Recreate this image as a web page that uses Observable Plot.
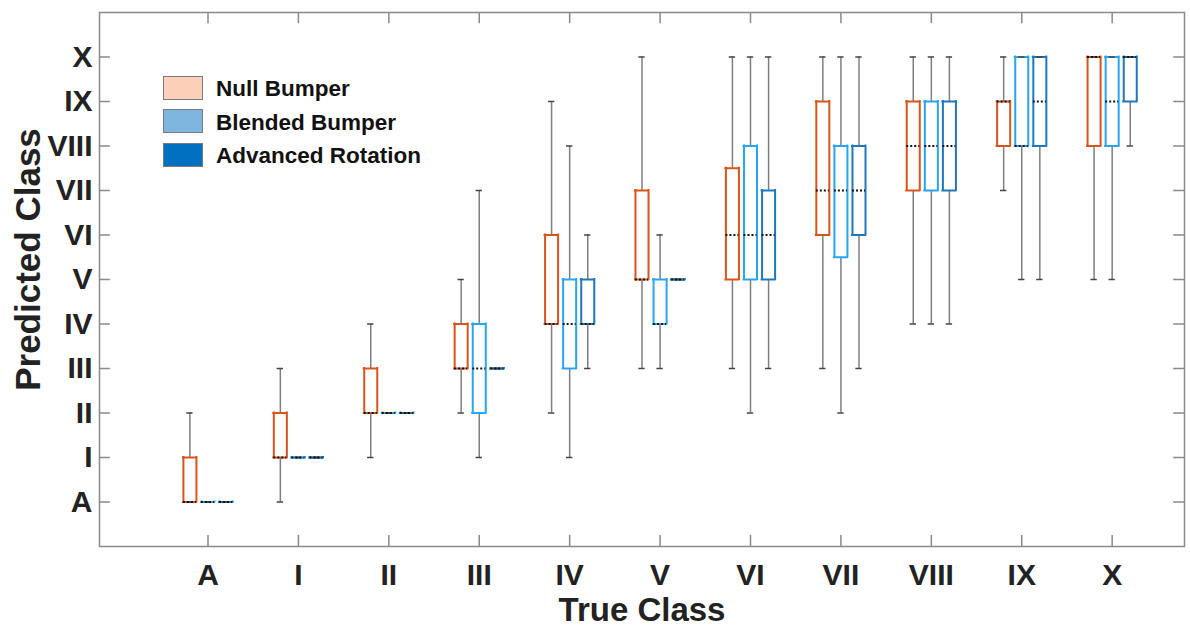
<!DOCTYPE html>
<html><head><meta charset="utf-8">
<script src="https://cdn.jsdelivr.net/npm/d3@7"></script>
<script src="https://cdn.jsdelivr.net/npm/@observablehq/plot@0.6"></script>
<style>
body{margin:0;background:#fff;}
#wrap{position:relative;width:1190px;height:629px;font-family:"Liberation Sans",Arial,sans-serif;}
.sw{position:absolute;left:163px;width:38px;height:22px;border:1.5px solid #7a7a7a;}
.lt{position:absolute;left:216px;font-size:22.5px;font-weight:bold;color:#111;line-height:24px;white-space:nowrap;}
</style></head><body><div id="wrap"></div>
<script>
const categories = ["A","I","II","III","IV","V","VI","VII","VIII","IX","X"];
const series = ["Null Bumper","Blended Bumper","Advanced Rotation"];
const boxColors = ["#D9541A","#27A5F2","#1F77BD"];
const legendFills = ["#FCCFB8","#7DB7E0","#0070BF"];

// Null Bumper
const nullLow  = [0,0,1,2,2,3,3,3,4,7,5];
const nullQ1   = [0,1,2,3,4,5,5,6,7,8,8];
const nullMed  = [0,1,2,3,4,5,6,7,8,9,10];
const nullQ3   = [1,2,3,4,6,7,7.5,9,9,9,10];
const nullHigh = [2,3,4,5,9,10,10,10,10,10,10];
// Blended Bumper
const blendLow  = [0,1,2,1,1,3,2,2,4,5,5];
const blendQ1   = [0,1,2,2,3,4,5,5.5,7,8,8];
const blendMed  = [0,1,2,3,4,4,6,7,8,8,9];
const blendQ3   = [0,1,2,4,5,5,8,8,9,10,10];
const blendHigh = [0,1,2,7,8,6,10,10,10,10,10];
// Advanced Rotation
const advLow  = [0,1,2,3,3,5,3,3,4,5,8];
const advQ1   = [0,1,2,3,4,5,5,6,7,8,9];
const advMed  = [0,1,2,3,4,5,6,7,8,9,10];
const advQ3   = [0,1,2,3,5,5,7,8,9,10,10];
const advHigh = [0,1,2,3,6,5,10,10,10,10,10];

const stats = [
  [nullLow,nullQ1,nullMed,nullQ3,nullHigh],
  [blendLow,blendQ1,blendMed,blendQ3,blendHigh],
  [advLow,advQ1,advMed,advQ3,advHigh]
];
const offsets = [-0.2, 0, 0.2];
const half = 0.072, capHalf = 0.035;
const rows = [];
series.forEach((s, si) => categories.forEach((c, ci) => {
  const [lo,q1,md,q3,hi] = stats[si].map(a => a[ci]);
  rows.push({series: s, x: ci + offsets[si], low: lo, q1, med: md, q3, high: hi});
}));

const ticks = d3.range(categories.length);
const axisGray = "#8a8a8a";

const chart = Plot.plot({
  width: 1190, height: 629,
  marginLeft: 99, marginRight: 6, marginTop: 12, marginBottom: 83,
  style: {fontFamily: '"Liberation Sans", Arial, sans-serif', fontWeight: "bold", background: "#fff"},
  x: {domain: [-1.2, 10.8]},
  y: {domain: [-1, 11]},
  color: {domain: series, range: boxColors},
  marks: [
    // inward ticks on all four sides
    Plot.ruleX(ticks, {x: d => d, y1: -1, y2: -0.75, stroke: axisGray, strokeWidth: 1.5}),
    Plot.ruleX(ticks, {x: d => d, y1: 11, y2: 10.75, stroke: axisGray, strokeWidth: 1.5}),
    Plot.ruleY(ticks, {y: d => d, x1: -1.2, x2: -1.08, stroke: axisGray, strokeWidth: 1.5}),
    Plot.ruleY(ticks, {y: d => d, x1: 10.8, x2: 10.68, stroke: axisGray, strokeWidth: 1.5}),
    Plot.frame({stroke: axisGray, strokeWidth: 1.5}),
    Plot.axisX({ticks, tickFormat: i => categories[i], tickSize: 0, tickPadding: 17, fontSize: 30, fill: "#222", label: null}),
    Plot.axisY({ticks, tickFormat: i => categories[i], tickSize: 0, tickPadding: 7, fontSize: 30, fill: "#222", label: null}),
    // whiskers
    Plot.ruleX(rows, {x: "x", y1: "q3", y2: "high", stroke: "#7f7f7f", strokeWidth: 1.5}),
    Plot.ruleX(rows, {x: "x", y1: "low", y2: "q1", stroke: "#7f7f7f", strokeWidth: 1.5}),
    // boxes
    Plot.ruleX(rows, {x: d => d.x - half, y1: "q1", y2: "q3", stroke: "series", strokeWidth: 2, strokeLinecap: "square"}),
    Plot.ruleX(rows, {x: d => d.x + half, y1: "q1", y2: "q3", stroke: "series", strokeWidth: 2, strokeLinecap: "square"}),
    Plot.ruleY(rows, {y: "q1", x1: d => d.x - half, x2: d => d.x + half, stroke: "series", strokeWidth: 2, strokeLinecap: "square"}),
    Plot.ruleY(rows, {y: "q3", x1: d => d.x - half, x2: d => d.x + half, stroke: "series", strokeWidth: 2, strokeLinecap: "square"}),
    // caps
    Plot.ruleY(rows, {y: "high", x1: d => d.x - capHalf, x2: d => d.x + capHalf, stroke: "#444", strokeWidth: 1.5}),
    Plot.ruleY(rows, {y: "low", x1: d => d.x - capHalf, x2: d => d.x + capHalf, stroke: "#444", strokeWidth: 1.5}),
    // medians
    Plot.ruleY(rows, {y: "med", x1: d => d.x - half, x2: d => d.x + half, stroke: "#111", strokeWidth: 2, strokeDasharray: "2,2"}),
    // axis titles
    Plot.text(["True Class"], {frameAnchor: "bottom", dy: 64, fontSize: 33, lineAnchor: "middle", fill: "#222"}),
    Plot.text(["Predicted Class"], {frameAnchor: "left", textAnchor: "middle", dx: -71, dy: -20, rotate: -90, fontSize: 35, lineAnchor: "middle", fill: "#222"})
  ]
});
const wrap = document.getElementById("wrap");
wrap.appendChild(chart);
const tops = [76, 109, 143];
const textTops = [77, 111, 144];
series.forEach((s, i) => {
  const sw = document.createElement("div");
  sw.className = "sw"; sw.style.top = tops[i] + "px"; sw.style.background = legendFills[i];
  wrap.appendChild(sw);
  const t = document.createElement("div");
  t.className = "lt"; t.style.top = textTops[i] + "px"; t.textContent = s;
  wrap.appendChild(t);
});
</script></body></html>
